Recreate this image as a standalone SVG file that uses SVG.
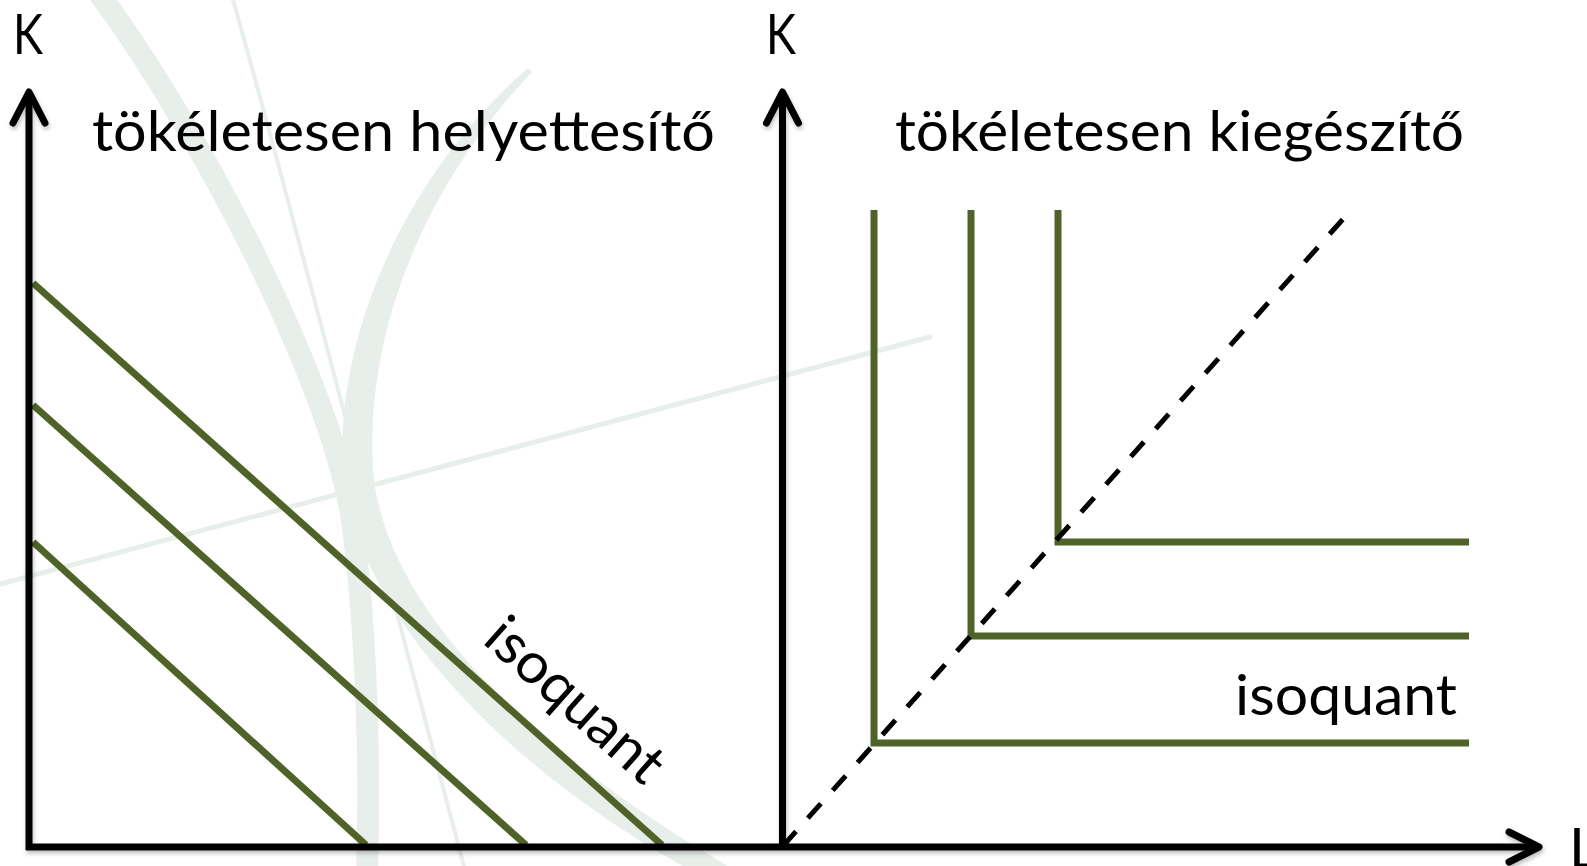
<svg xmlns="http://www.w3.org/2000/svg" width="1587" height="866" viewBox="0 0 1587 866">
<defs>
<style>
.txt{font-family:Lato,"Open Sans","Liberation Sans",sans-serif;font-size:57px;fill:#000}
.axis{stroke:#000;stroke-width:7;fill:none}
.head{stroke:#000;stroke-width:7;fill:none;stroke-linecap:round;stroke-linejoin:round}
.iso{stroke:#4F6228;stroke-width:7;fill:none}
.dash{stroke:#000;stroke-width:5;fill:none;stroke-dasharray:19.5 17.8}
.bg{fill:none;stroke:#E8EFEA;stroke-linecap:round}
</style>
<filter id="sh" x="-5%" y="-5%" width="110%" height="110%">
<feDropShadow dx="1" dy="3" stdDeviation="2" flood-color="#000" flood-opacity="0.25"/>
</filter>
</defs>
<rect width="1587" height="866" fill="#fff"/>
<g id="background">
<path class="bg" stroke-width="22" d="M100 -5 C200 130 330 380 352 520 C368 640 370 780 367 870"/>
<path fill="#E8EFEA" d="M528 68 C410 170 335 330 343 470 C352 600 490 760 690 870 L735 870 C560 770 385 620 373 470 C365 330 425 185 532 72 Z"/>
<path class="bg" stroke-width="4" d="M233 0 C290 200 345 420 465 870"/>
<path class="bg" stroke-width="5" d="M0 584 L930 337"/>
</g>
<g id="labels">
<text class="txt" x="13" y="54" textLength="30" lengthAdjust="spacingAndGlyphs">K</text>
<text class="txt" x="766" y="54" textLength="30" lengthAdjust="spacingAndGlyphs">K</text>
<text class="txt" x="1569" y="868">L</text>
<text class="txt" x="92" y="151" textLength="623" lengthAdjust="spacingAndGlyphs">tökéletesen helyettesítő</text>
<text class="txt" x="895" y="151" textLength="569" lengthAdjust="spacingAndGlyphs">tökéletesen kiegészítő</text>
</g>
<g id="left-isoquants">
<line class="iso" x1="33" y1="283" x2="662" y2="845"/>
<line class="iso" x1="33" y1="405" x2="526" y2="845"/>
<line class="iso" x1="33" y1="542" x2="366" y2="845"/>
<text class="txt" x="481" y="642" textLength="218" lengthAdjust="spacingAndGlyphs" transform="rotate(41.6 481 642)">isoquant</text>
</g>
<g id="right-isoquants">
<path class="iso" d="M874 210 L874 743 L1469 743"/>
<path class="iso" d="M971 210 L971 636 L1469 636"/>
<path class="iso" d="M1058 210 L1058 542 L1469 542"/>
<path class="dash" d="M783 846 L1344 218"/>
<text class="txt" x="1457" y="715" text-anchor="end" textLength="222" lengthAdjust="spacingAndGlyphs">isoquant</text>
</g>
<g id="axes" filter="url(#sh)">
<path class="axis" d="M26 847 L1536 847"/>
<path class="axis" d="M29 850 L29 95"/>
<path class="axis" d="M782.5 850 L782.5 95"/>
<path class="head" d="M13 123 L29 92 L45 123"/>
<path class="head" d="M766.5 123 L782.5 92 L798.5 123"/>
<path class="head" d="M1509 832 L1539 847 L1509 862"/>
</g>
</svg>
